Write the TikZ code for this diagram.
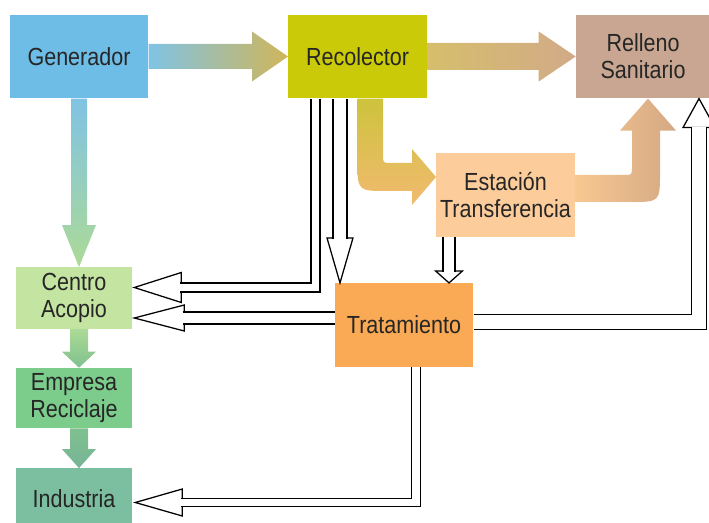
\documentclass[tikz,border=0pt]{standalone}
\usepackage{fontspec}
\setmainfont{Liberation Sans}[FakeStretch=0.87]
\usetikzlibrary{calc}

\definecolor{cGen}{RGB}{110,189,230}
\definecolor{cRec}{RGB}{202,202,8}
\definecolor{cRel}{RGB}{201,166,146}
\definecolor{cEst}{RGB}{252,205,155}
\definecolor{cTra}{RGB}{250,170,85}
\definecolor{cCen}{RGB}{196,228,162}
\definecolor{cEmp}{RGB}{124,204,140}
\definecolor{cInd}{RGB}{124,190,160}
\definecolor{cBlueArr}{RGB}{128,195,228}
\definecolor{cKhaki}{RGB}{208,182,90}
\definecolor{cTanA}{RGB}{214,190,108}
\definecolor{cTanB}{RGB}{210,170,135}
\definecolor{cOlive}{RGB}{205,195,60}
\definecolor{cOrange}{RGB}{242,186,112}
\definecolor{cPeach}{RGB}{248,200,145}
\definecolor{cRose}{RGB}{212,168,132}
\definecolor{cGreenA}{RGB}{172,218,150}
\definecolor{cGreenB}{RGB}{128,192,142}
\definecolor{cGreenC}{RGB}{118,180,152}

\tikzset{
  box/.style={rectangle, inner sep=0pt, align=center, text=black!85,
    font=\fontsize{17.6}{19.2}\selectfont},
  big/.style={box, minimum width=3.46cm, minimum height=2.09cm},
  small/.style={box, minimum width=2.9cm, minimum height=1.53cm},
  hollow/.style={draw=black, line width=0.9pt, double=white, double distance=#1},
  pics/hhead/.style 2 args={code={
    \draw[line width=0.9pt, fill=white] (0,0) -- (-#1,#2) -- (-#1,-#2) -- cycle;}}
}

\begin{document}
\begin{tikzpicture}[x=0.025cm, y=-0.025cm]
  \useasboundingbox (0,0) rectangle (709,523);
  \clip (0,0) rectangle (709,523);

  % boxes
  \node[big, fill=cGen] (gen) at (79,56.5) {Generador};
  \node[big, fill=cRec] (rec) at (357.5,56.5) {Recolector};
  \node[big, fill=cRel, minimum width=3.35cm] (rel) at (643,56.5) {Relleno\\Sanitario};
  \node[big, fill=cEst] (est) at (505.5,195) {Estación\\Transferencia};
  \node[big, fill=cTra] (tra) at (404,325) {Tratamiento};
  \node[small, fill=cCen] (cen) at (74,298) {Centro\\Acopio};
  \node[small, fill=cEmp, minimum height=1.5cm] (emp) at (74,398) {Empresa\\Reciclaje};
  \node[small, fill=cInd] (ind) at (74,499) {Industria};

  % thick arrows
  \shade[left color=cBlueArr, right color=cKhaki]
    ($(gen.east)+(0,-12.5)$) -- ($(rec.west)+(-36,-12.5)$) -- ($(rec.west)+(-36,-25)$)
    -- (rec.west) -- ($(rec.west)+(-36,25)$) -- ($(rec.west)+(-36,12.5)$)
    -- ($(gen.east)+(0,12.5)$) -- cycle;
  \shade[left color=cTanA, right color=cTanB]
    ($(rec.east)+(0,-13.5)$) -- ($(rel.west)+(-37,-13.5)$) -- ($(rel.west)+(-37,-25)$)
    -- (rel.west) -- ($(rel.west)+(-37,25)$) -- ($(rel.west)+(-37,13.5)$)
    -- ($(rec.east)+(0,13.5)$) -- cycle;

  \coordinate (a3) at (gen.south |- cen.north);
  \shade[top color=cBlueArr, bottom color=cGreenA]
    ($(gen.south)+(-8,0)$) -- ($(a3)+(-8,-42)$) -- ($(a3)+(-17,-42)$) -- (a3)
    -- ($(a3)+(17,-42)$) -- ($(a3)+(8,-42)$) -- ($(gen.south)+(8,0)$) -- cycle;
  \coordinate (a4s) at (gen.south |- cen.south);
  \coordinate (a4) at (gen.south |- emp.north);
  \shade[top color=cGreenA, bottom color=cGreenB]
    ($(a4s)+(-9,0)$) -- ($(a4)+(-9,-16)$) -- ($(a4)+(-17,-16)$) -- (a4)
    -- ($(a4)+(17,-16)$) -- ($(a4)+(9,-16)$) -- ($(a4s)+(9,0)$) -- cycle;
  \coordinate (a5s) at (gen.south |- emp.south);
  \coordinate (a5) at (gen.south |- ind.north);
  \shade[top color=cGreenB, bottom color=cGreenC]
    ($(a5s)+(-9,0)$) -- ($(a5)+(-9,-19)$) -- ($(a5)+(-17,-19)$) -- (a5)
    -- ($(a5)+(17,-19)$) -- ($(a5)+(9,-19)$) -- ($(a5s)+(9,0)$) -- cycle;

  \coordinate (a6) at (rec.south |- est.west);
  \shade[top color=cOlive, bottom color=cOrange]
    (rec.south) -- ($(a6)+(0,-34)$) .. controls ($(a6)+(0,-4)$) .. ($(a6)+(30,-4)$)
    -- ($(est.west)+(-24,-4)$) -- ($(est.west)+(-24,10)$) -- ($(est.west)+(0,-18)$)
    -- ($(est.west)+(-24,-46)$) -- ($(est.west)+(-24,-32)$) -- ($(a6)+(33.5,-32)$)
    .. controls ($(a6)+(25.5,-32)$) .. ($(a6)+(25.5,-40)$) -- ($(rec.south)+(25.5,0)$) -- cycle;

  \coordinate (a7) at (rel.south |- est.east);
  \shade[left color=cPeach, right color=cRose]
    ($(est.east)+(0,-20)$) -- ($(a7)+(-19,-20)$) .. controls ($(a7)+(-11,-20)$) .. ($(a7)+(-11,-28)$)
    -- ($(rel.south)+(-11,32)$) -- ($(rel.south)+(-23,32)$) -- ($(rel.south)+(5,0)$)
    -- ($(rel.south)+(33,32)$) -- ($(rel.south)+(17,32)$) -- ($(a7)+(17,-23)$)
    .. controls ($(a7)+(17,7)$) .. ($(a7)+(-13,7)$) -- ($(est.east)+(0,7)$) -- cycle;

  % hollow arrows
  \pic[rotate=180] at ($(cen.east)+(2,-10.5)$) {hhead={47}{15}};
  \draw[hollow=5.5pt] ($(rec.south)+(-42,0)$) |- ($(cen.east)+(48,-10.5)$);

  \coordinate (h2) at ($(rec.south)+(-17.5,0)$);
  \pic[rotate=-90] at (h2 |- tra.north) {hhead={45}{13}};
  \draw[hollow=9pt] (h2) -- ($(h2 |- tra.north)+(0,-44)$);

  \coordinate (h3) at ($(est.south)+(-56.5,0)$);
  \pic[rotate=-90] at (h3 |- tra.north) {hhead={12}{13.5}};
  \draw[hollow=7.6pt] (h3) -- ($(h3 |- tra.north)+(0,-11)$);

  \pic[rotate=180] at ($(cen.east)+(2,20)$) {hhead={50}{13}};
  \draw[hollow=7.6pt] ($(tra.west)+(0,-7)$) -- ($(cen.east)+(51,20)$);

  \pic[rotate=90] at ($(rel.south)+(56,0)$) {hhead={29}{16}};
  \draw[hollow=9.8pt] ($(tra.east)+(0,-3)$) -| ($(rel.south)+(56,28)$);

  \pic[rotate=180] at ($(ind.east)+(3,3.5)$) {hhead={47}{13.5}};
  \draw[hollow=5.1pt] ($(tra.south)+(12,0)$) |- ($(ind.east)+(49,3.5)$);
\end{tikzpicture}
\end{document}
